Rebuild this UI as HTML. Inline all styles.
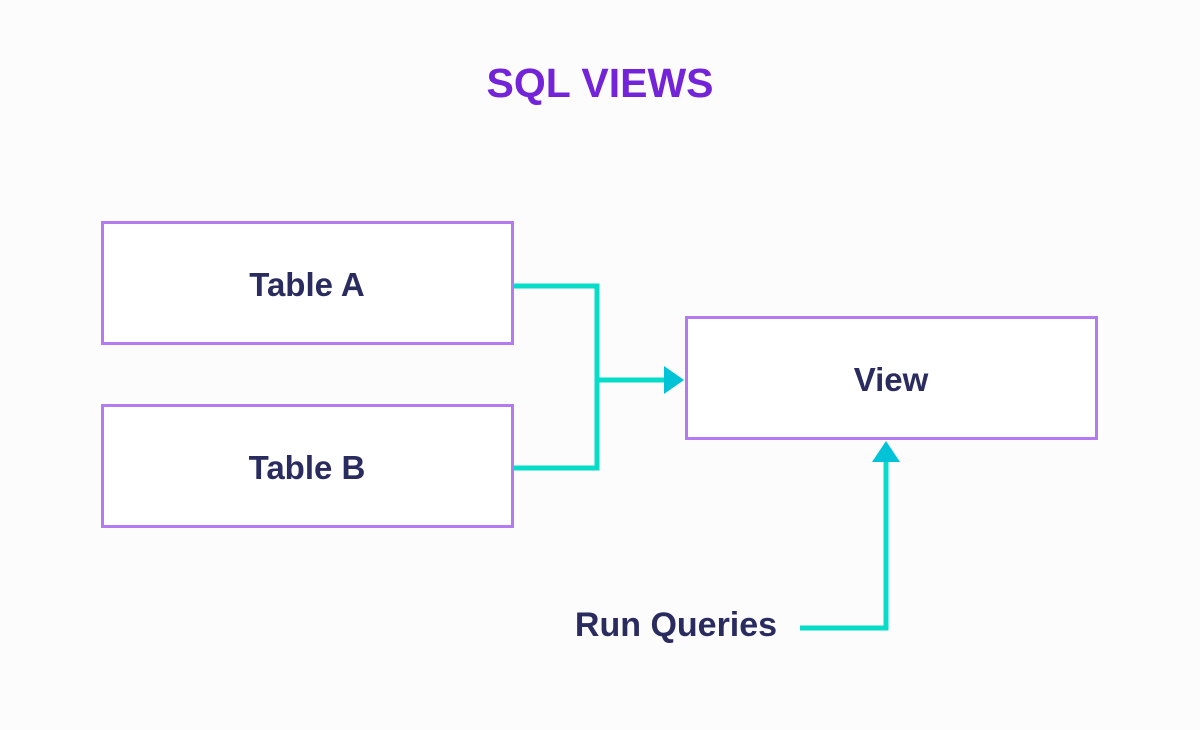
<!DOCTYPE html>
<html><head><style>
body{margin:0;background:#fcfcfc;}
svg text{font-family:"Liberation Sans",sans-serif;}
</style></head><body>
<svg width="1200" height="725" xmlns="http://www.w3.org/2000/svg">
<rect width="1200" height="725" fill="#fcfcfc"/>
<text x="600" y="97" text-anchor="middle" font-size="41" font-weight="bold" fill="#7424d8">SQL VIEWS</text>
<g fill="#fff" stroke="#b47af0" stroke-width="3">
<rect x="102.5" y="222.5" width="410" height="121"/>
<rect x="102.5" y="405.5" width="410" height="121"/>
<rect x="686.5" y="317.5" width="410" height="121"/>
</g>
<g font-size="33" font-weight="bold" fill="#2a2b5e" text-anchor="middle">
<text x="307" y="296">Table A</text>
<text x="307" y="479">Table B</text>
<text x="891" y="391">View</text>
<text x="676" y="636" font-size="34">Run Queries</text>
</g>
<g fill="none" stroke="#06dcc8" stroke-width="5">
<polyline points="513,286 597,286 597,468 513,468"/>
<line x1="597" y1="380" x2="668" y2="380"/>
<polyline points="800,628 886,628 886,460"/>
</g>
<g fill="#00c3d8">
<polygon points="664,366 684,380 664,394"/>
<polygon points="872,462 886,441 900,462"/>
</g>
</svg>
</body></html>
